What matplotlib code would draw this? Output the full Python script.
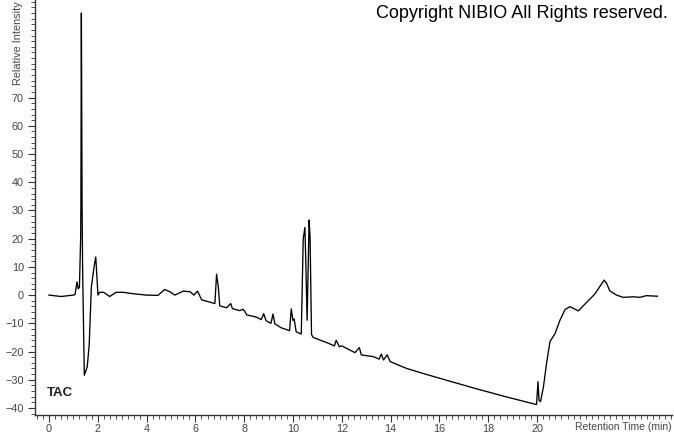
import matplotlib
matplotlib.use("Agg")
import matplotlib.pyplot as plt
from matplotlib.ticker import MultipleLocator, FixedLocator

plt.rcParams['font.family'] = ['Liberation Sans', 'DejaVu Sans']

# Retention time (min) and relative intensity
time = [0.00, 0.50, 1.00, 1.07, 1.15, 1.20, 1.25, 1.30, 1.31, 1.33, 1.36, 1.38, 1.45,
        1.57, 1.65, 1.74, 1.85, 1.92, 2.01, 2.08, 2.24, 2.49, 2.76, 3.03, 3.44, 3.99,
        4.47, 4.74, 4.95, 5.16, 5.50, 5.78, 5.94, 6.09, 6.26, 6.60, 6.80, 6.87, 6.94,
        7.00, 7.28, 7.45, 7.52, 7.82, 7.95, 8.02, 8.10, 8.50, 8.70, 8.80, 8.90, 9.10,
        9.18, 9.26, 9.52, 9.86, 9.93, 10.00, 10.05, 10.13, 10.34, 10.42, 10.49, 10.53,
        10.58, 10.66, 10.70, 10.76, 10.83, 11.37, 11.70, 11.77, 11.90, 12.00, 12.54,
        12.72, 12.80, 13.29, 13.53, 13.62, 13.71, 13.86, 13.98, 14.18, 14.66, 15.34,
        16.02, 17.39, 18.75, 19.98, 20.04, 20.08, 20.14, 20.26, 20.39, 20.53, 20.74,
        20.94, 21.15, 21.35, 21.69, 22.03, 22.37, 22.57, 22.75, 22.85, 22.98, 23.26,
        23.53, 23.94, 24.21, 24.48, 24.93]
intensity = [0.0, -0.5, 0.0, 0.2, 4.7, 2.2, 2.8, 20.0, 31.0, 100.0, 31.0, 10.0, -28.4,
             -25.4, -17.7, 3.0, 10.0, 13.5, 0.0, 1.0, 1.0, -0.5, 1.0, 1.0, 0.5, 0.0,
             -0.1, 2.0, 1.2, 0.0, 1.4, 1.2, 0.0, 1.4, -1.7, -2.5, -3.0, 7.4, 3.0,
             -3.8, -4.5, -3.0, -4.8, -5.5, -5.0, -5.7, -7.0, -7.8, -8.7, -6.6, -9.1, -10.0,
             -6.7, -10.2, -11.6, -12.6, -4.9, -9.0, -8.5, -13.0, -13.8, 20.0, 24.0, 10.0,
             -8.9, 26.6, 20.7, -14.0, -15.0, -16.8, -18.0, -16.0, -18.3, -18.0, -20.4,
             -18.6, -21.2, -21.8, -22.7, -20.9, -23.0, -21.2, -23.5, -24.3, -26.0, -27.8,
             -29.5, -32.9, -36.1, -38.8, -30.7, -37.2, -37.8, -32.7, -24.2, -16.5, -13.6,
             -8.9, -5.1, -4.1, -5.6, -2.6, 0.4, 3.0, 5.3, 4.2, 1.5, 0.0,
             -0.8, -0.6, -0.8, -0.2, -0.4]

y_tick_values = [-40, -30, -20, -10, 0, 10, 20, 30, 40, 50, 60, 70]
x_tick_values = [0, 2, 4, 6, 8, 10, 12, 14, 16, 18, 20]

fig = plt.figure(figsize=(6.74, 4.34), dpi=100)
ax = fig.add_axes([35/674, 19/434, 637/674, 415/434])
ax.plot(time, intensity, color='black', lw=0.95)

ax.set_xlim(-0.57, 25.53)
ax.set_ylim(-42.5, 104.6)

for s in ['top', 'right']:
    ax.spines[s].set_visible(False)
for s in ['left', 'bottom']:
    ax.spines[s].set_color('#333333')
    ax.spines[s].set_linewidth(1.0)

ax.xaxis.set_major_locator(FixedLocator(x_tick_values))
ax.xaxis.set_minor_locator(MultipleLocator(0.25))
ax.yaxis.set_major_locator(FixedLocator(y_tick_values))
ax.yaxis.set_minor_locator(MultipleLocator(2))
ax.tick_params(axis='both', which='major', length=5, width=0.8, color='#333333',
               labelsize=7.8, labelcolor='#444444')
ax.tick_params(axis='x', which='major', pad=1.5)
ax.tick_params(axis='y', which='major', pad=3)
ax.tick_params(axis='both', which='minor', length=3, width=0.6, color='#333333')

fig.text(668/674, 1 - 14/434, 'Copyright NIBIO All Rights reserved.', ha='right', va='center',
         fontsize=13, color='black')
fig.text(47/674, 1 - 393/434, 'TAC', ha='left', va='center',
         fontsize=9.5, fontweight='bold', color='#222222')
fig.text(672/674, 1 - 427/434, 'Retention Time (min)', ha='right', va='center',
         fontsize=7.5, color='#444444')
fig.text(18/674, 1 - 1/434, 'Relative Intensity', ha='center', va='top', rotation=90,
         fontsize=7.8, color='#444444')

fig.savefig('out.png', dpi=100, facecolor='white')
